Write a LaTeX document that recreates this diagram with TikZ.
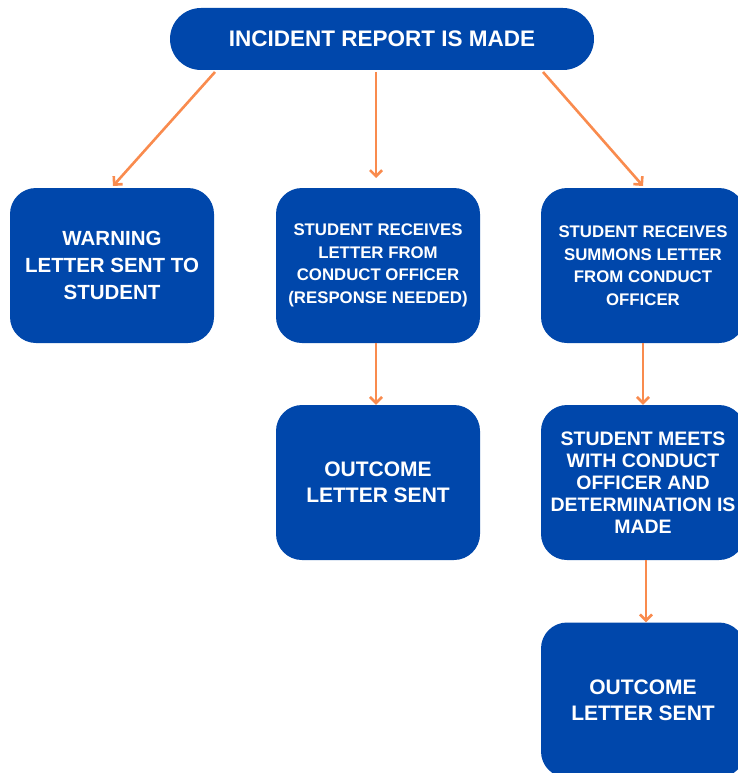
\documentclass[tikz,border=0pt]{standalone}
\usepackage{fontspec}
\setmainfont{Liberation Sans}
\usetikzlibrary{arrows.meta}
\definecolor{boxblue}{HTML}{0047AB}
\definecolor{arrorange}{HTML}{F98B4E}
\tikzset{
  stepbox/.style={fill=boxblue, rounded corners=26pt, minimum width=204pt, minimum height=155pt,
    text=white, align=center, font=\bfseries, inner sep=0pt},
  topbox/.style={fill=boxblue, rounded corners=31pt, minimum width=424pt, minimum height=62pt,
    text=white, font=\fontsize{22.5}{24}\selectfont\bfseries, inner sep=0pt},
  arr/.style={draw=arrorange, line width=2.6pt, -{Straight Barb[length=6pt,width=12pt,line width=2.6pt]}},
}
\begin{document}
\begin{tikzpicture}[x=1pt,y=-1pt]
\useasboundingbox (0,0) rectangle (738,773);
\node[topbox] (top) at (382,39) {INCIDENT REPORT IS MADE};
\node[stepbox, font=\fontsize{20.5}{27}\selectfont\bfseries] (warn) at (112,265.5) {WARNING\\LETTER SENT TO\\STUDENT};
\node[stepbox, font=\fontsize{16.8}{22.5}\selectfont\bfseries] (recv) at (378,265.5) {STUDENT RECEIVES\\LETTER FROM\\CONDUCT OFFICER\\(RESPONSE NEEDED)};
\node[stepbox, font=\fontsize{16.8}{22.5}\selectfont\bfseries] (summ) at (643,265.5) {STUDENT RECEIVES\\SUMMONS LETTER\\FROM CONDUCT\\OFFICER};
\node[stepbox, font=\fontsize{21}{26}\selectfont\bfseries] (out1) at (378,482.5) {OUTCOME\\LETTER SENT};
\node[stepbox, font=\fontsize{19.5}{22}\selectfont\bfseries] (meet) at (643,482.5) {STUDENT MEETS\\WITH CONDUCT\\OFFICER AND\\DETERMINATION IS\\MADE};
\node[stepbox, font=\fontsize{21}{26}\selectfont\bfseries] (out2) at (643,700) {OUTCOME\\LETTER SENT};
\coordinate (a1s) at (215,72);
\coordinate (a1e) at (113,186);
\coordinate (a2s) at (376,72);
\coordinate (a2e) at (376,178);
\coordinate (a3s) at (543,72);
\coordinate (a3e) at (643,186);
\draw[arr] (a1s) -- (a1e);
\draw[arr] (a2s) -- (a2e);
\draw[arr] (a3s) -- (a3e);
\draw[arr] (recv.south -| 376,0) -- (out1.north -| 376,0);
\draw[arr] (summ.south) -- (meet.north);
\draw[arr] ([xshift=3pt]meet.south) -- ([xshift=3pt]out2.north);
\end{tikzpicture}
\end{document}
